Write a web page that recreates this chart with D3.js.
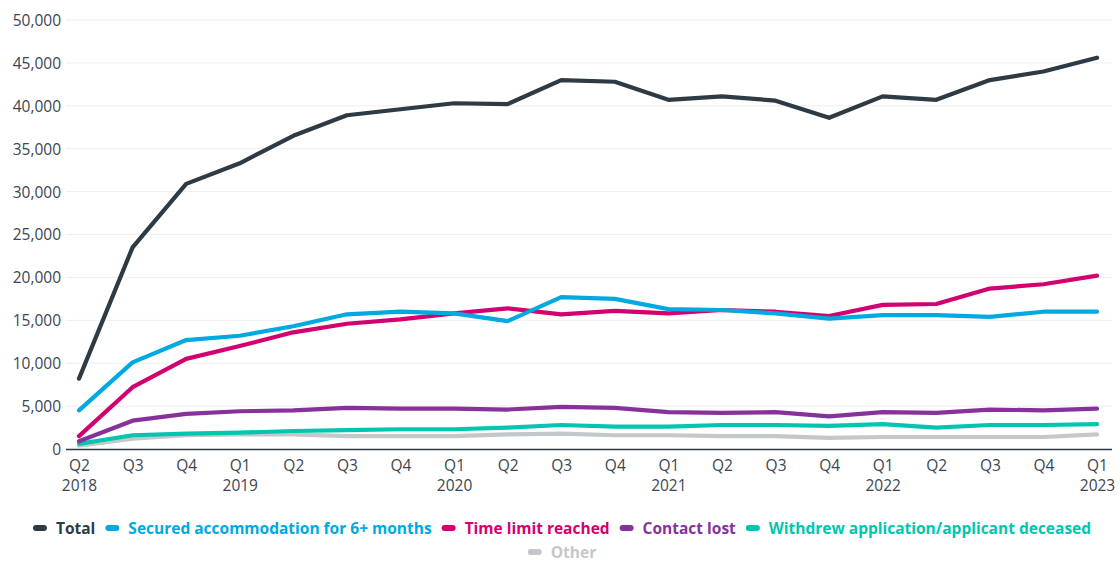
<!DOCTYPE html>
<html><head><meta charset="utf-8">
<script src="https://cdn.jsdelivr.net/npm/d3@7"></script>
<style>
body{margin:0;background:#fff;}
svg text{font-family:"Open Sans","Noto Sans",sans-serif;}
</style></head>
<body><svg id="c" width="1120" height="563"></svg>
<script>
const quarters = ["Q2","Q3","Q4","Q1","Q2","Q3","Q4","Q1","Q2","Q3","Q4","Q1","Q2","Q3","Q4","Q1","Q2","Q3","Q4","Q1"];
const years = ["2018","","","2019","","","","2020","","","","2021","","","","2022","","","","2023"];
const yTicks = [0,5000,10000,15000,20000,25000,30000,35000,40000,45000,50000];

const total     = [8200,23500,30900,33300,36500,38900,39600,40300,40200,43000,42800,40700,41100,40600,38600,41100,40700,43000,44000,45600];
const secured   = [4500,10100,12700,13200,14300,15700,16000,15800,14900,17700,17500,16300,16200,15800,15200,15600,15600,15400,16000,16000];
const timeLimit = [1500,7200,10500,12000,13600,14600,15100,15800,16400,15700,16100,15800,16200,16000,15500,16800,16900,18700,19200,20200];
const contact   = [900,3300,4100,4400,4500,4800,4700,4700,4600,4900,4800,4300,4200,4300,3800,4300,4200,4600,4500,4700];
const withdrew  = [600,1600,1800,1900,2100,2200,2300,2300,2500,2800,2600,2600,2800,2800,2700,2900,2500,2800,2800,2900];
const other     = [400,1200,1600,1700,1700,1500,1500,1500,1700,1800,1600,1600,1500,1500,1300,1400,1400,1400,1400,1700];

const seriesNames = ["Total","Secured accommodation for 6+ months","Time limit reached","Contact lost","Withdrew application/applicant deceased","Other"];
const seriesValues = [total,secured,timeLimit,contact,withdrew,other];
const colors = ["#2e3a44","#00a9e0","#d3006f","#87329b","#00c6b0","#c5c8cb"];

const svg = d3.select("#c");
const x = d3.scalePoint().domain(d3.range(quarters.length)).range([79,1097]);
const y = d3.scaleLinear().domain([0,50000]).range([449,20]);

// grid
svg.append("g").selectAll("line").data(yTicks.filter(d=>d>0)).join("line")
  .attr("x1",66).attr("x2",1112).attr("y1",d=>y(d)).attr("y2",d=>y(d))
  .attr("stroke","#eeeeee").attr("stroke-width",1);

// y axis labels
const yAxis = d3.axisLeft(y).tickValues(yTicks).tickSize(0).tickPadding(0).tickFormat(d3.format(","));
const gy = svg.append("g").attr("transform","translate(61,0)").call(yAxis);
gy.select(".domain").remove();
gy.selectAll("text").attr("font-size",15.5).attr("fill","#3c4650").attr("dy","0.35em");

// x axis
const xAxis = d3.axisBottom(x).tickSize(0).tickPadding(0).tickFormat(()=>"");
const gx = svg.append("g").attr("transform","translate(0,449)").call(xAxis);
gx.select(".domain").remove();
svg.append("line").attr("x1",66).attr("x2",1112).attr("y1",449.5).attr("y2",449.5).attr("stroke","#2e3a44").attr("stroke-width",1.3);
gx.selectAll(".tick").each(function(d){
  const t = d3.select(this);
  t.append("text").attr("y",22).attr("text-anchor","middle").attr("font-size",15.5).attr("fill","#3c4650").text(quarters[d]);
  if(years[d]) t.append("text").attr("y",42).attr("text-anchor","middle").attr("font-size",15.5).attr("fill","#3c4650").text(years[d]);
});

// lines
const line = d3.line().x((d,i)=>x(i)).y(d=>y(d));
const drawOrder = [5,4,3,2,1,0];
svg.append("g").selectAll("path").data(drawOrder).join("path")
  .attr("d",k=>line(seriesValues[k])).attr("fill","none")
  .attr("stroke",k=>colors[k]).attr("stroke-width",4.2)
  .attr("stroke-linecap","round").attr("stroke-linejoin","round");

// legend
const lg = svg.append("g");
const rows = [[0,1,2,3,4],[5]];
const rowY = [529,553];
rows.forEach((row,ri)=>{
  const g = lg.append("g");
  let cx = 0;
  row.forEach(k=>{
    const it = g.append("g").attr("transform",`translate(${cx},0)`);
    it.append("rect").attr("x",0).attr("y",-4).attr("width",14).attr("height",6).attr("rx",3).attr("fill",colors[k]);
    const tx = it.append("text").attr("x",23).attr("y",0).attr("dy","0.35em").attr("font-size",15.5).attr("font-weight","bold")
      .attr("fill",colors[k]).text(seriesNames[k]);
    const w = tx.node().getComputedTextLength();
    cx += 23 + w + 10;
  });
  const totalW = cx - 10;
  g.attr("transform",`translate(${(1120-totalW)/2 + 2},${rowY[ri]})`);
});
</script></body></html>
